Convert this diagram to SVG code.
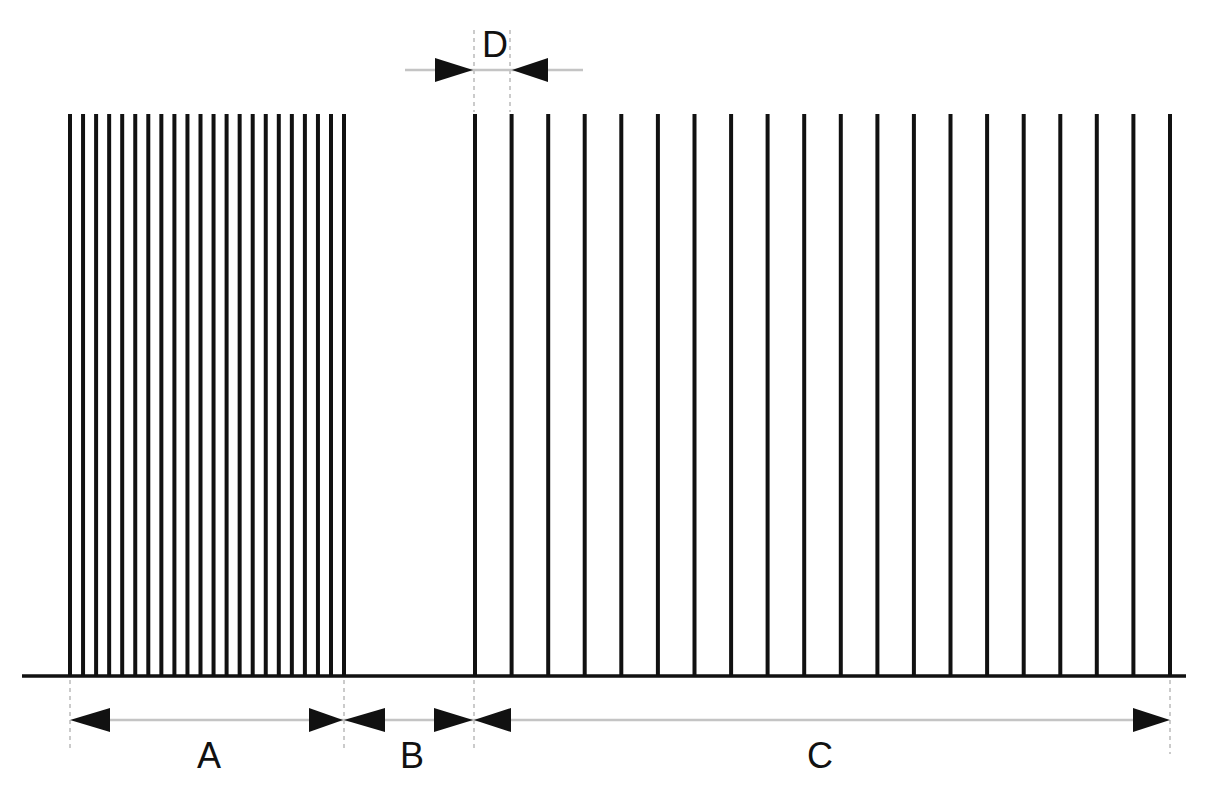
<svg xmlns="http://www.w3.org/2000/svg" width="1227" height="800" viewBox="0 0 1227 800">
<style>
.bar{stroke:#111;stroke-width:4}
.base{stroke:#111;stroke-width:3.5}
.ext{stroke:#bbb;stroke-width:1.5;stroke-dasharray:4 4}
.dim{stroke:#c4c4c4;stroke-width:2.5}
.head{fill:#111}
.lbl{font-family:"Liberation Sans",Arial,sans-serif;font-size:36px;fill:#111;text-anchor:middle}
</style>
<rect width="1227" height="800" fill="#fff"/>
<g id="bars-A">
<line class="bar" x1="70" y1="114" x2="70" y2="676"/>
<line class="bar" x1="83.05" y1="114" x2="83.05" y2="676"/>
<line class="bar" x1="96.1" y1="114" x2="96.1" y2="676"/>
<line class="bar" x1="109.15" y1="114" x2="109.15" y2="676"/>
<line class="bar" x1="122.2" y1="114" x2="122.2" y2="676"/>
<line class="bar" x1="135.25" y1="114" x2="135.25" y2="676"/>
<line class="bar" x1="148.3" y1="114" x2="148.3" y2="676"/>
<line class="bar" x1="161.35" y1="114" x2="161.35" y2="676"/>
<line class="bar" x1="174.4" y1="114" x2="174.4" y2="676"/>
<line class="bar" x1="187.45" y1="114" x2="187.45" y2="676"/>
<line class="bar" x1="200.5" y1="114" x2="200.5" y2="676"/>
<line class="bar" x1="213.55" y1="114" x2="213.55" y2="676"/>
<line class="bar" x1="226.6" y1="114" x2="226.6" y2="676"/>
<line class="bar" x1="239.65" y1="114" x2="239.65" y2="676"/>
<line class="bar" x1="252.7" y1="114" x2="252.7" y2="676"/>
<line class="bar" x1="265.75" y1="114" x2="265.75" y2="676"/>
<line class="bar" x1="278.8" y1="114" x2="278.8" y2="676"/>
<line class="bar" x1="291.85" y1="114" x2="291.85" y2="676"/>
<line class="bar" x1="304.9" y1="114" x2="304.9" y2="676"/>
<line class="bar" x1="317.95" y1="114" x2="317.95" y2="676"/>
<line class="bar" x1="331" y1="114" x2="331" y2="676"/>
<line class="bar" x1="344" y1="114" x2="344" y2="676"/>
</g>
<g id="bars-C">
<line class="bar" x1="475" y1="114" x2="475" y2="676"/>
<line class="bar" x1="511.6" y1="114" x2="511.6" y2="676"/>
<line class="bar" x1="548.2" y1="114" x2="548.2" y2="676"/>
<line class="bar" x1="584.7" y1="114" x2="584.7" y2="676"/>
<line class="bar" x1="621.3" y1="114" x2="621.3" y2="676"/>
<line class="bar" x1="657.9" y1="114" x2="657.9" y2="676"/>
<line class="bar" x1="694.5" y1="114" x2="694.5" y2="676"/>
<line class="bar" x1="731.1" y1="114" x2="731.1" y2="676"/>
<line class="bar" x1="767.6" y1="114" x2="767.6" y2="676"/>
<line class="bar" x1="804.2" y1="114" x2="804.2" y2="676"/>
<line class="bar" x1="840.8" y1="114" x2="840.8" y2="676"/>
<line class="bar" x1="877.4" y1="114" x2="877.4" y2="676"/>
<line class="bar" x1="913.9" y1="114" x2="913.9" y2="676"/>
<line class="bar" x1="950.5" y1="114" x2="950.5" y2="676"/>
<line class="bar" x1="987.1" y1="114" x2="987.1" y2="676"/>
<line class="bar" x1="1023.7" y1="114" x2="1023.7" y2="676"/>
<line class="bar" x1="1060.3" y1="114" x2="1060.3" y2="676"/>
<line class="bar" x1="1096.8" y1="114" x2="1096.8" y2="676"/>
<line class="bar" x1="1133.4" y1="114" x2="1133.4" y2="676"/>
<line class="bar" x1="1170" y1="114" x2="1170" y2="676"/>
</g>
<g id="baseline">
<line class="base" x1="22" y1="676" x2="1186" y2="676"/>
</g>
<g id="extension-lines">
<line class="ext" x1="70" y1="680" x2="70" y2="750"/>
<line class="ext" x1="344" y1="680" x2="344" y2="752"/>
<line class="ext" x1="474" y1="680" x2="474" y2="752"/>
<line class="ext" x1="1170" y1="680" x2="1170" y2="754"/>
<line class="ext" x1="474" y1="30" x2="474" y2="112"/>
<line class="ext" x1="510" y1="30" x2="510" y2="112"/>
</g>
<g id="connectors">
<line class="dim" x1="110" y1="720" x2="1133" y2="720"/>
<line class="dim" x1="405" y1="70" x2="583" y2="70"/>
<polygon class="head" points="70,720 110,708 110,732"/>
<polygon class="head" points="343,720 309,708 309,732"/>
<polygon class="head" points="344,720 385,708 385,732"/>
<polygon class="head" points="473,720 434,708 434,732"/>
<polygon class="head" points="474,720 511,708 511,732"/>
<polygon class="head" points="1170,720 1133,708 1133,732"/>
<polygon class="head" points="473,70 435,58 435,82"/>
<polygon class="head" points="512,70 548,58 548,82"/>
</g>
<g id="labels">
<text class="lbl" x="209" y="768">A</text>
<text class="lbl" x="412" y="768">B</text>
<text class="lbl" x="820" y="768">C</text>
<text class="lbl" x="495" y="57">D</text>
</g>
</svg>
